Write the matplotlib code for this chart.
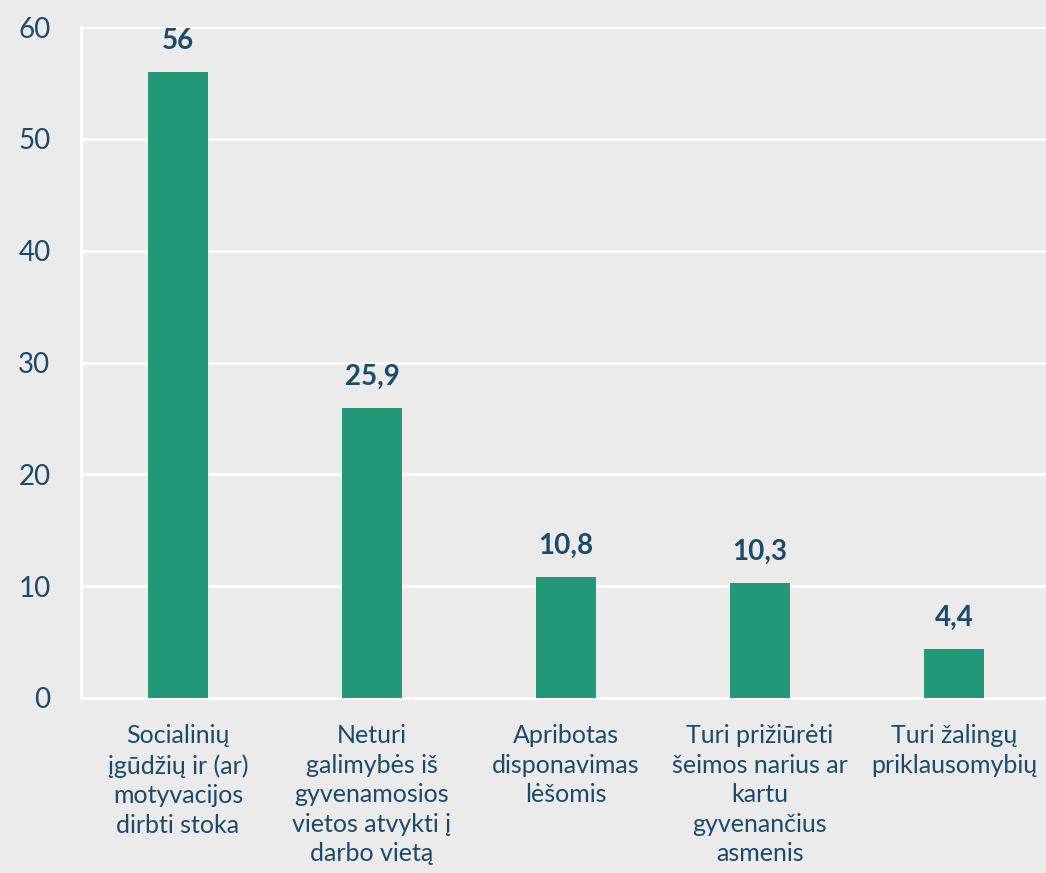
import matplotlib
matplotlib.use("Agg")
import matplotlib.pyplot as plt
import numpy as np

categories = [
    "Socialinių\nįgūdžių ir (ar)\nmotyvacijos\ndirbti stoka",
    "Neturi\ngalimybės iš\ngyvenamosios\nvietos atvykti į\ndarbo vietą",
    "Apribotas\ndisponavimas\nlėšomis",
    "Turi prižiūrėti\nšeimos narius ar\nkartu\ngyvenančius\nasmenis",
    "Turi žalingų\npriklausomybių",
]
values = [56, 25.9, 10.8, 10.3, 4.4]
value_labels = ["56", "25,9", "10,8", "10,3", "4,4"]
yticks = [0, 10, 20, 30, 40, 50, 60]

bg = "#ebebeb"
bar_color = "#239879"
text_color = "#1b4a6b"

plt.rcParams['font.family'] = ['Lato', 'DejaVu Sans']

fig = plt.figure(figsize=(10.46, 8.73), dpi=100, facecolor=bg)
ax = fig.add_axes([81/1046, 1-698/873, 970/1046, (698-27)/873])
ax.set_facecolor(bg)

x = np.arange(len(values))
ax.bar(x, values, width=0.31, color=bar_color, zorder=3)

for xi, v, lab in zip(x, values, value_labels):
    ax.annotate(lab, (xi, v), xytext=(0, 13), textcoords="offset points",
                ha="center", va="bottom", fontsize=20, fontweight="bold",
                color=text_color)

ax.set_xlim(-0.5, len(values) - 0.5)
ax.set_ylim(0, 60)
ax.set_yticks(yticks)
ax.set_yticklabels([str(t) for t in yticks], fontsize=20, color=text_color)
ax.set_xticks(x)
ax.set_xticklabels(categories, fontsize=18, color=text_color, linespacing=1.34)
ax.tick_params(axis="y", length=0, pad=22)
ax.tick_params(axis="x", length=0, pad=19)

ax.grid(axis="y", color="white", linewidth=2.2, zorder=0)
for s in ["top", "right"]:
    ax.spines[s].set_visible(False)
ax.spines["left"].set_color("white")
ax.spines["left"].set_linewidth(2.2)
ax.spines["bottom"].set_color("white")
ax.spines["bottom"].set_linewidth(2.2)

fig.savefig("out.png", dpi=100, facecolor=bg)
